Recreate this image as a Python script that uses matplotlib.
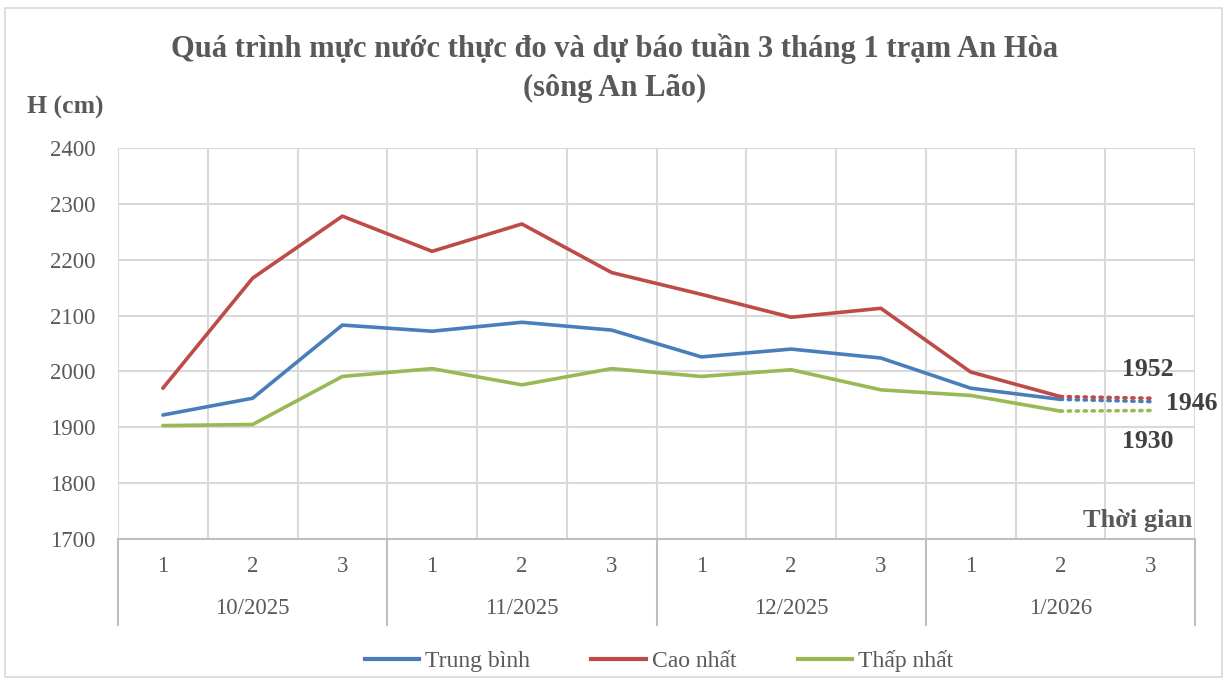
import matplotlib
matplotlib.use("Agg")
import matplotlib.pyplot as plt
from matplotlib.lines import Line2D
from matplotlib.patches import Rectangle

months = ["10/2025", "11/2025", "12/2025", "1/2026"]
weeks = ["1", "2", "3"]
trung_binh = [1922, 1952, 2083, 2072, 2088, 2074, 2026, 2040, 2024, 1970, 1950]
cao_nhat = [1970, 2167, 2278, 2215, 2264, 2177, 2138, 2097, 2113, 1999, 1955]
thap_nhat = [1903, 1905, 1991, 2005, 1976, 2005, 1991, 2003, 1967, 1957, 1929]
fc_tb = [1950, 1946]
fc_cn = [1955, 1952]
fc_tn = [1929, 1930]
names = ["Trung bình", "Cao nhất", "Thấp nhất"]
colors = ["#4A7EBB", "#BE4B48", "#98B954"]

plt.rcParams['font.family'] = ['Liberation Serif', 'DejaVu Serif']
gray = "#595959"

fig = plt.figure(figsize=(12.27, 6.8), dpi=100)
fig.add_artist(Rectangle((0.004, 0.004), 0.992, 0.984, transform=fig.transFigure,
                         fill=False, edgecolor="#D9D9D9", lw=1.2))
ax = fig.add_axes([118/1227, 1-539/680, (1195-118)/1227, (539-148)/680])

n = len(months) * len(weeks)
xs = [i + 0.5 for i in range(n)]
series = [(trung_binh, fc_tb), (cao_nhat, fc_cn), (thap_nhat, fc_tn)]
for (vals, fc), c in zip(series, colors):
    ax.plot(xs[:len(vals)], vals, color=c, lw=2.6, solid_capstyle='round', zorder=3)
    ax.plot(xs[len(vals)-1:len(vals)-1+len(fc)], fc, color=c, lw=2.6,
            linestyle=(0, (0.6, 1.6)), dash_capstyle='round', zorder=3)

ax.set_xlim(0, n)
ax.set_ylim(1700, 2400)
ax.set_yticks(range(1700, 2401, 100))
ax.set_xticks(range(0, n + 1), minor=False)
ax.set_xticklabels([])
ax.tick_params(axis='x', length=0)
ax.tick_params(axis='y', length=0, labelsize=16.5, labelcolor=gray, pad=16)
ax.grid(True, color="#D9D9D9", lw=1.5)
for s in ["top", "right", "left"]:
    ax.spines[s].set_visible(False)
ax.spines["bottom"].set_color("#BFBFBF")
ax.spines["bottom"].set_linewidth(1.5)
ax.axvline(0, color="#D9D9D9", lw=1.5)
ax.axvline(n, color="#D9D9D9", lw=1.5)

# two-level category labels
trans = ax.get_xaxis_transform()
for i in range(n):
    ax.text(xs[i], -27/391, weeks[i % 3], transform=trans, ha='center', va='center',
            fontsize=16.5, color=gray)
for m, lab in enumerate(months):
    ax.text(m * 3 + 1.5, -70/391, lab, transform=trans, ha='center', va='center',
            fontsize=16.5, color=gray)
for k in range(len(months) + 1):
    ax.add_line(Line2D([k * 3, k * 3], [0, -86/391], transform=trans, color="#BFBFBF",
                       lw=1.5, clip_on=False))

# forecast value labels
lab_c = "#404040"
ax.text(1148/1227, 1-370/680, str(fc_cn[-1]), transform=fig.transFigure, ha='center',
        va='center', fontsize=18.5, fontweight='bold', color=lab_c)
ax.text(1192/1227, 1-404/680, str(fc_tb[-1]), transform=fig.transFigure, ha='center',
        va='center', fontsize=18.5, fontweight='bold', color=lab_c)
ax.text(1148/1227, 1-442/680, str(fc_tn[-1]), transform=fig.transFigure, ha='center',
        va='center', fontsize=18.5, fontweight='bold', color=lab_c)

fig.text(1192/1227, 1-520/680, "Thời gian", ha='right', va='center', fontsize=19,
         fontweight='bold', color=gray)
fig.text(65/1227, 1-107/680, "H (cm)", ha='center', va='center', fontsize=18.5,
         fontweight='bold', color=gray)
fig.text(615/1227, 1-68/680, "Quá trình mực nước thực đo và dự báo tuần 3 tháng 1 trạm An Hòa\n(sông An Lão)",
         ha='center', va='center', fontsize=22, fontweight='bold', color=gray,
         linespacing=1.45)

handles = [Line2D([], [], color=c, lw=3) for c in colors]
fig.legend(handles, names, loc='center', bbox_to_anchor=(0.537, 1-661/680), ncol=3,
           frameon=False, fontsize=17, labelcolor=gray, handlelength=2.3,
           handletextpad=0.25, columnspacing=2.6)

fig.savefig("out.png", dpi=100)
